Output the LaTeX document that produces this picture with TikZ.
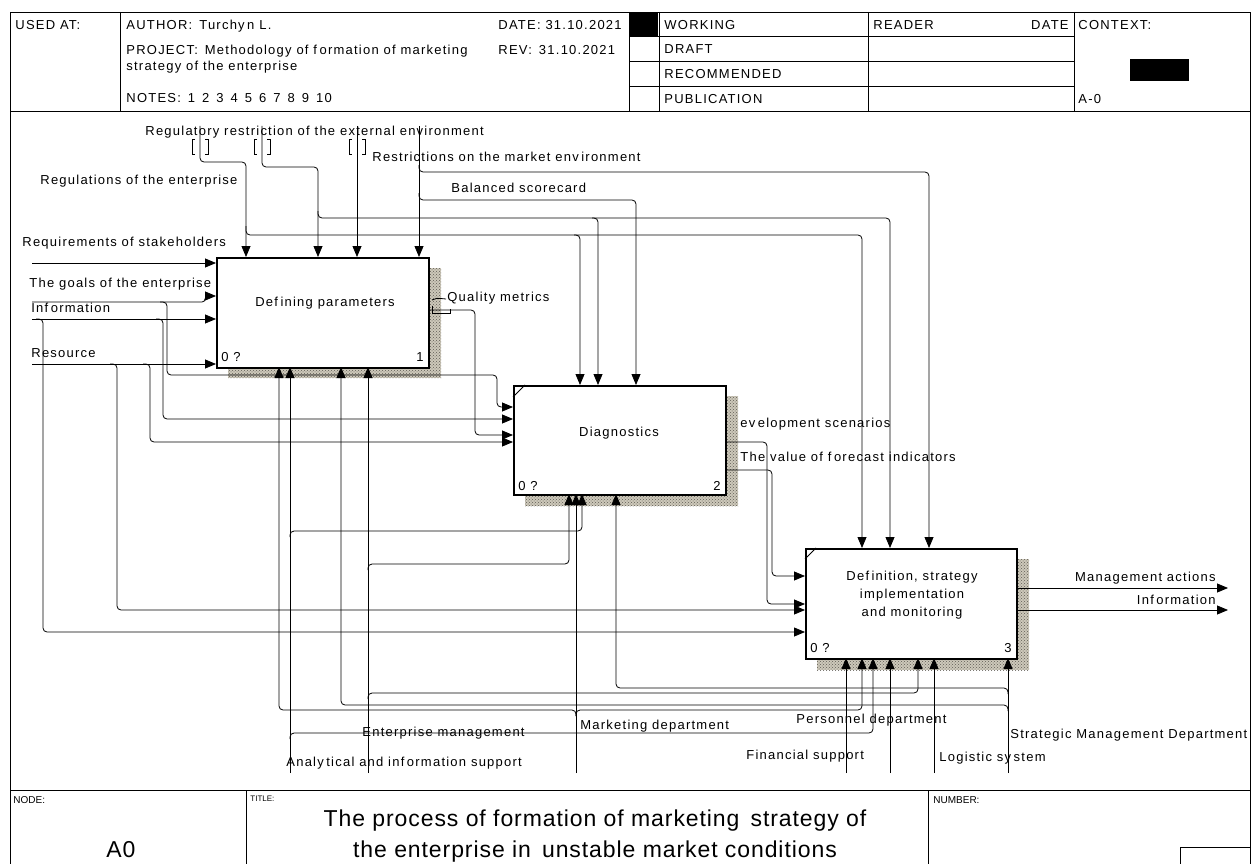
\documentclass[tikz,border=0pt]{standalone}
\usepackage{fontspec}
\setmainfont{Liberation Sans}
\newfontfamily\spacedfont{Liberation Sans}[LetterSpace=9.5]
\newfontfamily\titlefont{Liberation Sans}[LetterSpace=4]
\usetikzlibrary{arrows.meta,patterns}
\definecolor{shadowbg}{RGB}{205,200,186}
\definecolor{shadowfg}{RGB}{95,92,84}
\newcommand\gp{\kern2.5pt}
\begin{document}
\begin{tikzpicture}[x=1pt,y=-1pt,line width=0.8pt,
  txt/.style={font={\spacedfont\fontsize{13}{16}\selectfont}, inner sep=0pt, anchor=base west},
  txtr/.style={txt, anchor=base east},
  txtc/.style={txt, anchor=base},
  tiny/.style={font={\fontsize{10}{12}\selectfont}, inner sep=0pt, anchor=base west},
  big/.style={font={\titlefont\fontsize{23}{27}\selectfont}, inner sep=0pt, anchor=base},
  hdrline/.style={draw, line width=0.8pt},
  fnbox/.style={draw, line width=1.8pt, fill=white, inner sep=0pt, anchor=north west},
  shadowfill/.style={draw=none, preaction={fill=shadowbg}, pattern=crosshatch dots, pattern color=shadowfg},
  wire/.style={draw, line width=0.8pt, rounded corners=4pt},
  arr/.style={wire, -{Triangle[length=11pt,width=9pt]}},
]
\useasboundingbox (0,0) rectangle (1252,864);

% ---------- frame, header and footer ----------
\draw[hdrline] (10,880) -- (10,12) -- (1250,12) -- (1250,880);
\draw[hdrline] (10,111) -- (1250,111);
\draw[hdrline] (10,790) -- (1250,790);
\foreach \xx in {120,629,659,868,1074} \draw[hdrline] (\xx,12) -- (\xx,111);
\foreach \yy in {36.5,61,86} \draw[hdrline] (629,\yy) -- (1074,\yy);
\fill (630,12.5) rectangle (658,36);
\fill (1130,59) rectangle (1189,81);
\draw[hdrline] (246,790) -- (246,880);
\draw[hdrline] (928,790) -- (928,880);
\draw[hdrline] (1180,880) -- (1180,847) -- (1250,847);

\node[txt] (usedat) at (15,29.5) {USED AT:};
\node[txt] (author) at (126,29.5) {AUTHOR:\, Turchy\gp n L.};
\node[txt] (date) at (498,29.5) {DATE: 31.10.2021};
\node[txt] (project) at (126,55) {PROJECT:\, Methodology of f\gp ormation of marketing};
\node[txt] (rev) at (498,55) {REV:\, 31.10.2021};
\node[txt] (project2) at (126,70.5) {strategy of the enterprise};
\node[txt] (notes) at (126,102.5) {NOTES:\, 1\, 2\, 3\, 4\, 5\, 6\, 7\, 8\, 9\, 10};
\node[txt] (working) at (664,29.5) {WORKING};
\node[txt] (draft) at (664,54) {DRAFT};
\node[txt] (recom) at (664,78.5) {RECOMMENDED};
\node[txt] (publ) at (664,103) {PUBLICATION};
\node[txt] (reader) at (873,29.5) {READER};
\node[txtr] (rdate) at (1069,29.5) {DATE};
\node[txt] (context) at (1078,29.5) {CONTEXT:};
\node[txt] (aminus) at (1078,103) {A-0};

\node[tiny] (nodelbl) at (13,803) {NODE:};
\node[big] (nodeno) at (121,857) {A0};
\node[font={\fontsize{8}{10}\selectfont}, inner sep=0pt, anchor=base west] (titlelbl) at (250,801) {TITLE:};
\node[big] (title1) at (595,826) {The process of formation of marketing\, strategy of};
\node[big] (title2) at (595,857) {the enterprise in\, unstable market conditions};
\node[tiny] (numberlbl) at (933,803) {NUMBER:};

% ---------- activity boxes with shadows ----------
\path[shadowfill] (228,268) rectangle (441,378);
\path[shadowfill] (525,396) rectangle (738,506);
\path[shadowfill] (817,559) rectangle (1029,670);
\node[fnbox, minimum width=212pt, minimum height=110pt] (b1) at (216,257) {};
\node[fnbox, minimum width=212pt, minimum height=109pt] (b2) at (513,385) {};
\node[fnbox, minimum width=211pt, minimum height=110pt] (b3) at (805,548) {};
\draw (513,397) -- (525,385);
\draw (805,559) -- (816,548);

\node[txtc] (b1t) at (325,306.5) {Def\gp ining parameters};
\node[txtc] (b2t) at (619,436.5) {Diagnostics};
\node[txtc] (b3t1) at (912,580) {Def\gp inition, strategy};
\node[txtc] (b3t2) at (912,598) {implementation};
\node[txtc] (b3t3) at (912,616) {and monitoring};
\node[txt] (b1q) at (221,361.5) {0 ?};
\node[txtr] (b1n) at (424,361.5) {1};
\node[txt] (b2q) at (518,490.5) {0 ?};
\node[txtr] (b2n) at (721,490.5) {2};
\node[txt] (b3q) at (810,652.5) {0 ?};
\node[txtr] (b3n) at (1012,652.5) {3};

% ---------- arrow labels ----------
\node[txt] (lreg) at (145,135.5) {Regulatory restriction of the external environment};
\node[txt] (lmkt) at (372,161.5) {Restrictions on the market env\gp ironment};
\node[txt] (lregent) at (40,184.5) {Regulations of the enterprise};
\node[txt] (lbsc) at (451,192.5) {Balanced scorecard};
\node[txt] (lreq) at (22,246.5) {Requirements of stakeholders};
\node[txt] (lgoal) at (29,287.5) {The goals of the enterprise};
\node[txt] (linfo) at (31,312.5) {Inf\gp ormation};
\node[txt] (lres) at (31,357.5) {Resource};
\node[txt] (lqm) at (447,301.5) {Quality metrics};
\node[txt] (ldev) at (740,427.5) {ev\gp elopment scenarios};
\node[txt] (lfc) at (740,461.5) {The value of f\gp orecast indicators};
\node[txtr] (lmact) at (1216,581.5) {Management actions};
\node[txtr] (linfo2) at (1216,604) {Inf\gp ormation};
\node[txt] (lent) at (362,736.5) {Enterprise management};
\node[txt] (lana) at (286,766.5) {Analy\gp tical and inf\gp ormation support};
\node[txt] (lmkd) at (580,729.5) {Marketing department};
\node[txt] (lper) at (796,723.5) {Personnel department};
\node[txt] (lfin) at (746,759.5) {Financial support};
\node[txt] (llog) at (939,761.5) {Logistic sy\gp stem};
\node[txt] (lstr) at (1010,738.5) {Strategic Management Department};

% ---------- ports ----------
\coordinate (t1) at (200,126);  \coordinate (t2) at (262,126);
\coordinate (t3) at (357,126);  \coordinate (t4) at (419,126);
\coordinate (b1c1) at (246,257); \coordinate (b1c2) at (318,257);
\coordinate (b1c3) at (357,257); \coordinate (b1c4) at (419,257);
\coordinate (b2c1) at (580,385); \coordinate (b2c2) at (598,385);
\coordinate (b2c3) at (636,385);
\coordinate (b3c1) at (862,548); \coordinate (b3c2) at (890,548);
\coordinate (b3c3) at (929,548);
\coordinate (i1) at (32,263); \coordinate (i2) at (32,302);
\coordinate (i3) at (32,319); \coordinate (i4) at (32,364);
\coordinate (b1i1) at (216,263); \coordinate (b1i2) at (216,296);
\coordinate (b1i3) at (216,319); \coordinate (b1i4) at (216,364);
\coordinate (b1o1) at (428,310);
\coordinate (b2i1) at (513,407); \coordinate (b2i2) at (513,419);
\coordinate (b2i3) at (513,435); \coordinate (b2i4) at (513,442);
\coordinate (b2o1) at (725,442); \coordinate (b2o2) at (725,470);
\coordinate (b3i1) at (805,576); \coordinate (b3i2) at (805,604);
\coordinate (b3i3) at (805,610); \coordinate (b3i4) at (805,632);
\coordinate (b3o1) at (1016,588); \coordinate (b3o2) at (1016,610);
\coordinate (e1) at (1228,588); \coordinate (e2) at (1228,610);
\coordinate (b1m1) at (279,367); \coordinate (b1m2) at (290,367);
\coordinate (b1m3) at (341,367); \coordinate (b1m4) at (368,367);
\coordinate (b2m1) at (569,494); \coordinate (b2m2) at (576,494);
\coordinate (b2m3) at (582,494); \coordinate (b2m4) at (616,494);
\coordinate (b3m1) at (846,658); \coordinate (b3m2) at (862,658);
\coordinate (b3m3) at (873,658); \coordinate (b3m4) at (890,658);
\coordinate (b3m5) at (918,658); \coordinate (b3m6) at (934,658);
\coordinate (b3m7) at (1008,658);
\coordinate (m1) at (290,773); \coordinate (m2) at (368,773);
\coordinate (m3) at (576,773); \coordinate (m4) at (846,773);
\coordinate (m5) at (890,773); \coordinate (m6) at (934,773);
\coordinate (m7) at (1008,773);

% ---------- tunnel brackets ----------
\foreach \c in {200,262,357} {
  \draw (\c-5,139) -- (\c-8,139) -- (\c-8,154) -- (\c-5,154);
  \draw (\c+5,139) -- (\c+8,139) -- (\c+8,154) -- (\c+5,154);
}

% ---------- controls ----------
\draw[arr] (t1) |- (246,162) -- (b1c1);
\draw[arr] (246,226) |- (580,235) -- (b2c1);
\draw[arr] (574,235) -| (b3c1);
\draw[arr] (t2) |- (318,167) -- (b1c2);
\draw[arr] (318,211) |- (598,218) -- (b2c2);
\draw[arr] (592,218) -| (b3c2);
\draw[arr] (t3) -- (b1c3);
\draw[arr] (t4) -- (b1c4);
\draw[arr] (419,165) |- (929,172) -- (b3c3);
\draw[arr] (419,193) |- (636,200) -- (b2c3);

% ---------- inputs ----------
\draw[arr] (i1) -- (b1i1);
\draw[arr, rounded corners=3pt] (i2) -| (205,296) -- (b1i2);
\draw[arr] (160,302) -| (167,375) -- (497,375) |- (b2i1);
\draw[arr] (i3) -- (b1i3);
\draw[arr] (156,319) -| (163,419) -- (b2i2);
\draw[arr] (36,319) -| (43,632) -- (b3i4);
\draw[arr] (i4) -- (b1i4);
\draw[arr] (143,364) -| (150,442) -- (b2i4);
\draw[arr] (110,364) -| (117,610) -- (b3i3);

% ---------- outputs ----------
\draw[arr] (b1o1) -| (475,435) -- (b2i3);
\draw (432,300) .. controls (436,298) .. (446,299);
\draw (432,306) -- (432,313) -- (450,313) -- (450,309);
\draw[arr] (b2o1) -| (767,604) -- (b3i2);
\draw[arr] (b2o2) -| (772,576) -- (b3i1);
\draw[arr] (b3o1) -- (e1);
\draw[arr] (b3o2) -- (e2);

% ---------- mechanisms ----------
\draw[arr] (m1) -- (b1m2);
\draw[arr] (290,537) |- (582,531) -- (b2m3);
\draw[arr] (290,739) |- (873,733) -- (b3m3);
\draw[arr] (m2) -- (b1m4);
\draw[arr] (368,570) |- (569,564) -- (b2m1);
\draw[arr] (368,699) |- (918,693) -- (b3m5);
\draw[arr] (m3) -- (b2m2);
\draw[arr] (576,716) |- (279,710) -- (b1m1);
\draw[arr] (576,716) |- (862,710) -- (b3m2);
\draw[arr] (m4) -- (b3m1);
\draw[arr] (m5) -- (b3m4);
\draw[arr] (m6) -- (b3m6);
\draw[arr] (m7) -- (b3m7);
\draw[arr] (1008,694) |- (616,688) -- (b2m4);
\draw[arr] (1008,711) |- (341,705) -- (b1m3);
\end{tikzpicture}
\end{document}
